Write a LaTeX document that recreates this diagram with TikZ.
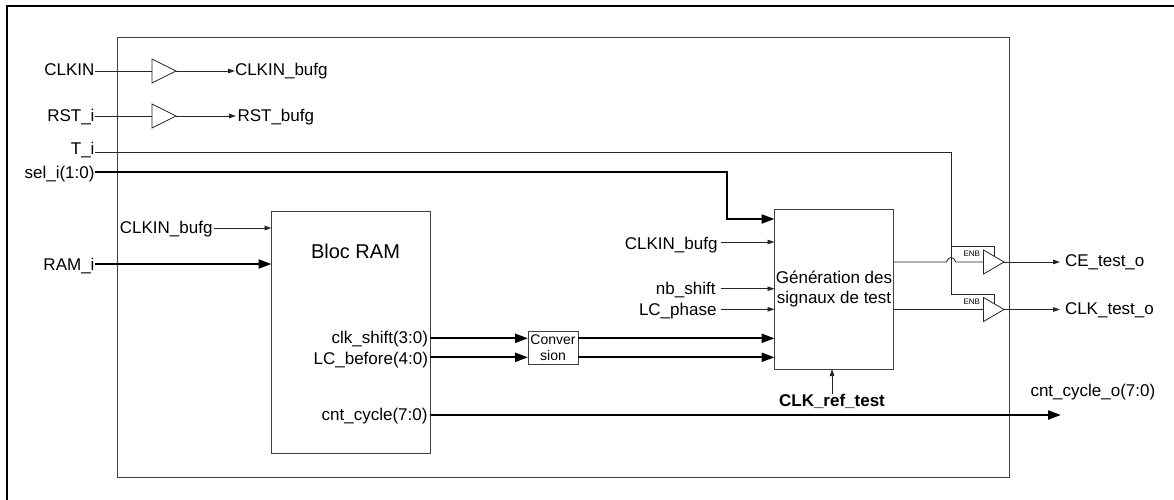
\documentclass[tikz,border=0pt]{standalone}
\usepackage{fontspec}
\setmainfont{Liberation Sans}
\usetikzlibrary{arrows.meta,shapes.geometric}
\tikzset{
  x=1pt,y=-1pt,
  wire/.style={draw=black!85,line width=0.8pt},
  thinarrow/.style={wire,-{Triangle[length=7pt,width=4.5pt]}},
  bus/.style={draw=black,line width=2.2pt},
  busarrow/.style={bus,-{Triangle[length=13pt,width=9pt]}},
  blockbox/.style={draw=black!75,line width=0.9pt,inner sep=0pt,outer sep=0pt,anchor=north west,align=center},
  lbl/.style={inner sep=0pt,outer sep=0pt,font=\fontsize{17}{20}\selectfont},
  lblE/.style={lbl,anchor=base east},
  lblW/.style={lbl,anchor=base west},
  buffer/.style 2 args={draw=black!85,line width=0.8pt,isosceles triangle,shape border rotate=0,isosceles triangle stretches,inner sep=0pt,outer sep=0pt,anchor=west,minimum width=#2,minimum height=#1},
  enb/.style={inner sep=0pt,outer sep=0pt,anchor=base east,font=\fontsize{8}{9}\selectfont},
}
\begin{document}
\begin{tikzpicture}
\useasboundingbox (0,0) rectangle (1174,500);
% outer frame (open on right and bottom)
\coordinate (frameA) at (7,500);
\coordinate (frameB) at (7,6);
\coordinate (frameC) at (1174,6);
\draw[line width=2pt,miter limit=4] (frameA) -- (frameB) -- (frameC);
% blocks
\node[blockbox,minimum width=892pt,minimum height=440.5pt] (core) at (117,37) {};
\node[blockbox,minimum width=158.5pt,minimum height=242pt] (bram) at (271.5,211) {};
\node[blockbox,minimum width=119pt,minimum height=160pt,font=\fontsize{17}{20}\selectfont] (gen) at (774.5,209) {Génération des\\signaux de test};
\node[blockbox,minimum width=50pt,minimum height=33pt,font=\fontsize{14}{16}\selectfont] (conv) at (528,331) {Conver\\sion};
\node[inner sep=0pt,font=\fontsize{20}{24}\selectfont,anchor=base] (bramtitle) at (355.5,258) {Bloc RAM};
% buffers
\node[buffer={24pt}{24pt}] (bufA) at (152,71) {};
\node[buffer={24pt}{24pt}] (bufB) at (152,116) {};
\node[buffer={20.5pt}{24pt}] (bufC) at (983.5,262) {};
\node[buffer={20.5pt}{24pt}] (bufD) at (983.5,309.5) {};
\node[enb] (enbC) at (980,256) {ENB};
\node[enb] (enbD) at (980,304) {ENB};
% labels
\node[lblE] (clkin) at (94.5,76) {CLKIN};
\node[lblE] (rsti) at (94.5,121.5) {RST\_i};
\node[lblE] (ti) at (94.5,154) {T\_i};
\node[lblE] (seli) at (94.5,178) {sel\_i(1:0)};
\node[lblE] (rami) at (94.5,270) {RAM\_i};
\node[lblW] (clkinbufg) at (235,76) {CLKIN\_bufg};
\node[lblW] (rstbufg) at (237.5,121.5) {RST\_bufg};
\node[lblE] (clkinbufgb) at (212.5,233.5) {CLKIN\_bufg};
\node[lblE] (clkshift) at (428,343) {clk\_shift(3:0)};
\node[lblE] (lcbefore) at (428,364) {LC\_before(4:0)};
\node[lblE] (cntcycle) at (427.5,420) {cnt\_cycle(7:0)};
\node[lblE] (clkinbufgc) at (717.5,249) {CLKIN\_bufg};
\node[lblE] (nbshift) at (715.5,294) {nb\_shift};
\node[lblE] (lcphase) at (716.5,315) {LC\_phase};
\node[lbl,anchor=base,font=\fontsize{17}{20}\selectfont\bfseries] (clkref) at (832,406) {CLK\_ref\_test};
\node[lblW] (ceout) at (1065,266) {CE\_test\_o};
\node[lblW] (clkout) at (1065,314) {CLK\_test\_o};
\node[lblW] (cntout) at (1030.5,396.5) {cnt\_cycle\_o(7:0)};
% row coordinates
\coordinate (rowCk) at (0,228);
\coordinate (rowRam) at (0,264);
\coordinate (rowSel) at (0,172);
\coordinate (rowSelIn) at (0,219);
\coordinate (elbowSel) at (727,172);
\coordinate (rowClk) at (0,242);
\coordinate (rowNb) at (0,288.7);
\coordinate (rowLc) at (0,309.3);
\coordinate (rowA) at (0,338.3);
\coordinate (rowB) at (0,357.3);
\coordinate (rowCnt) at (0,415);
\coordinate (cntTip) at (1061,415);
\coordinate (cornerT) at (951,152);
\coordinate (jA) at (951,246);
\coordinate (jB) at (951,294);
\coordinate (enC) at (994,256);
\coordinate (enD) at (994,303.5);
\coordinate (bumpL) at (946.5,262);
\coordinate (bumpR) at (955.7,262);
\coordinate (bumpCa) at (948,256);
\coordinate (bumpCb) at (954.2,256);
\coordinate (outTipC) at (1060,262);
\coordinate (outTipD) at (1060,309.5);
% connectors
\draw[wire] (clkin.east |- bufA.west) -- (bufA.west);
\draw[thinarrow] (bufA.apex) -- (clkinbufg.west |- bufA.apex);
\draw[wire] (rsti.east |- bufB.west) -- (bufB.west);
\draw[thinarrow] (bufB.apex) -- ([xshift=-1.5pt]rstbufg.west |- bufB.apex);
\draw[wire] (ti.east |- cornerT) -- (cornerT) -- (jB) -- (jB -| enD) -- (enD);
\draw[wire] (jA) -- (jA -| enC) -- (enC);
\draw[busarrow] (seli.east |- rowSel) -- (elbowSel) -- (elbowSel |- rowSelIn) -- (gen.west |- rowSelIn);
\draw[thinarrow] ([xshift=1pt]clkinbufgb.east |- rowCk) -- (bram.west |- rowCk);
\draw[busarrow] (rami.east |- rowRam) -- (bram.west |- rowRam);
\draw[busarrow] (bram.east |- rowA) -- (conv.west |- rowA);
\draw[busarrow] (bram.east |- rowB) -- (conv.west |- rowB);
\draw[busarrow] (conv.east |- rowA) -- (gen.west |- rowA);
\draw[busarrow] (conv.east |- rowB) -- (gen.west |- rowB);
\draw[busarrow] (bram.east |- rowCnt) -- (cntTip);
\draw[thinarrow] ([xshift=3pt]clkinbufgc.east |- rowClk) -- (gen.west |- rowClk);
\draw[thinarrow] ([xshift=5pt]nbshift.east |- rowNb) -- (gen.west |- rowNb);
\draw[thinarrow] ([xshift=4pt]lcphase.east |- rowLc) -- (gen.west |- rowLc);
\draw[thinarrow] (clkref.north) -- (gen.south -| clkref.north);
\draw[wire] (gen.east |- bufC.west) -- (bumpL) .. controls (bumpCa) and (bumpCb) .. (bumpR) -- (bufC.west);
\draw[wire] (gen.east |- bufD.west) -- (bufD.west);
\draw[thinarrow] (bufC.apex) -- (outTipC);
\draw[thinarrow] (bufD.apex) -- (outTipD);
\end{tikzpicture}
\end{document}
